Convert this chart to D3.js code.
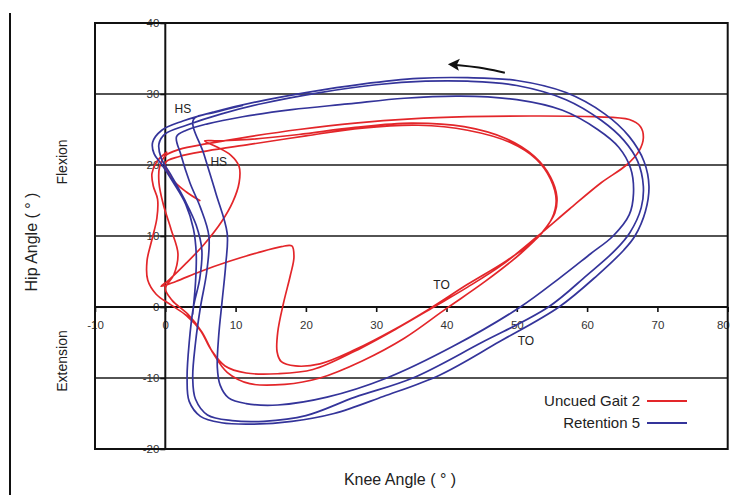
<!DOCTYPE html>
<html>
<head>
<meta charset="utf-8">
<script src="https://cdn.jsdelivr.net/npm/d3@7"></script>
<style>
  html, body { margin: 0; padding: 0; background: #fff; }
  svg { display: block; font-family: "Liberation Sans", Arial, sans-serif; }
</style>
</head>
<body>
<svg id="chart" width="730" height="495"></svg>
<script>
// Axis ticks (degrees)
const kneeTicks = [-10, 0, 10, 20, 30, 40, 50, 60, 70, 80];
const hipTicks = [-20, -10, 0, 10, 20, 30, 40];
const hipGrid = [-10, 10, 20, 30];

// Hip–knee angle cycles, [knee, hip] in degrees
const uncuedGait2 = [
  [0.2, 21.8], [-1.2, 20.5], [-1.9, 18.8], [-1.7, 17], [-1.1, 15.2], [-1.2, 12.5], [-1.9, 9.5],
  [-2.6, 6.5], [-2.5, 3.8], [-1.3, 1.8], [0.8, 0.3], [3, -1.2], [5, -3.3], [6.5, -6], [8.5, -8.3],
  [11.5, -9.3], [16, -9.4], [21, -8.8], [27, -6.2], [33, -3], [38.2, 0], [43, 2.8], [48, 6],
  [53, 10], [57.5, 13.8], [62, 17.5], [65.6, 20], [67.4, 22], [68, 23.8], [67.6, 25.4], [66, 26.4],
  [61, 26.8], [52, 26.9], [43, 26.8], [35, 26.5], [27, 25.9], [19, 25], [12, 24], [6, 23],
  [2, 22.2], [0, 21.3],
  [-0.8, 19.8], [-0.9, 17.5], [-0.3, 14.5], [0.8, 11], [1.8, 7.5], [1.2, 4.5], [0, 2.6], [1, 0.9],
  [3.2, -1], [5.2, -3.5], [6.8, -6.5], [8.8, -9.2], [12, -10.8], [17, -10.9], [22, -10], [28, -7.6],
  [34, -4.4], [40, -0.2], [45.5, 3.6], [50.5, 7.5], [53.6, 10.5], [55.4, 13.2], [55.7, 15.5],
  [54.8, 18.3], [52.5, 21.2], [48.5, 23.7], [42.5, 25.4], [35, 25.9], [27, 25.3], [19, 24.3],
  [12, 23.6], [7.5, 23.4], [5.6, 23.4],
  [7.2, 22.6], [9.3, 21.4], [10.5, 19.8], [10.5, 17.5], [9.6, 14.8], [8, 12], [5.5, 8.8], [2.8, 6],
  [0.5, 3.8], [-0.6, 2.9], [1.5, 3.6], [5, 5], [9, 6.4], [13, 7.6], [16.5, 8.5], [18, 8.6],
  [18.3, 7], [17.8, 4.5], [16.8, 0.5], [16, -3.5], [15.9, -6.3], [16.5, -7.7], [18.5, -8.3],
  [22, -8], [27, -6], [32.5, -3.2], [37.5, -0.3], [43, 3.2], [48.5, 6.5], [53, 9.8], [55, 12.5],
  [55.6, 15], [54.8, 18], [52.8, 20.8], [49, 23.2], [43, 24.9], [36, 25.6], [28, 25.2], [20, 24.1],
  [12, 22.9], [6, 22], [2, 21.2], [0, 20.3], [1, 18], [3, 16.2], [4.9, 15]
];

const retention5 = [
  [11, 28.4], [7, 27.4], [4, 26.4], [5.5, 21.5], [7.2, 16], [8.8, 10.4], [8.6, 6],
  [8.1, 1], [7.6, -4], [7.4, -8.5], [7.8, -11], [9, -12.8], [11.5, -13.6], [16, -13.8], [23, -12.7],
  [31.5, -10], [41, -5.5], [50.5, 0], [56, 4], [60.5, 7.5], [63.7, 10],
  [66, 13], [66.6, 16], [66.2, 19.5], [64.5, 22.5], [61.5, 25], [56.5, 27.7], [50, 29.2], [42, 29.7],
  [34, 29.4], [26, 28.6], [18, 27.8], [11, 26.8], [6, 25.8], [3, 24.9], [1.6, 24], [2.2, 21.5],
  [3.5, 17.5], [5, 14], [6.2, 10], [5.9, 5], [5, 0], [4.3, -5], [3.9, -10], [4.3, -13], [6, -15.2],
  [9.5, -16], [14, -16.1], [20, -15.3], [27, -12.7], [35.2, -10], [45, -5],
  [54.5, 0], [60, 4.5], [64, 8], [66.1, 10.5], [67.7, 14], [68, 17], [67.2, 20.5], [65.2, 23.5],
  [62, 26.3], [57, 29.2], [50, 31.2], [43, 31.8], [37, 31.8], [30, 31.3], [22, 30.2], [14, 28.7],
  [8, 27.2], [3, 25.6], [0, 24.4], [-0.9, 23], [-0.6, 21], [0.8, 18.6], [2.8, 15], [4.4, 11.5],
  [5.2, 8], [4.9, 4], [4, 0], [3.4, -5], [3.1, -10], [3.4, -13.3], [5, -15.4], [8, -16.3], [12, -16.5],
  [18, -16.1], [24, -15], [31, -12.6], [39, -9.6], [47.5, -4.9], [56, 0], [61.5, 4.5], [65.2, 8],
  [66.8, 10], [68.3, 13.5], [68.8, 17], [68.1, 20.5], [66, 24], [62.5, 27.2], [57, 30.2], [50, 31.9],
  [43, 32.3], [36, 32.2], [28, 31.4], [20, 30.2], [13, 28.9], [7, 27.5], [2.5, 26.2], [-0.5, 24.9],
  [-1.8, 23.2], [-1.6, 21.6], [-0.6, 20.2], [1.1, 17.6], [2.9, 14.5], [4, 11], [4.4, 7.5], [4.3, 3.5],
  [3.9, -1]
];

// Gait events, [label, knee, hip]
const eventLabels = [["HS", 2.5, 27.9], ["HS", 7.6, 20.5], ["TO", 39.3, 3.1], ["TO", 51.3, -4.8]];

const seriesNames = ["Uncued Gait 2", "Retention 5"];
const seriesColors = ["#e3262a", "#34349a"];

const svg = d3.select("#chart");
const x = d3.scaleLinear().domain([-10, 80]).range([95, 727.7]);
const y = d3.scaleLinear().domain([-20, 40]).range([449, 23]);

// Outer figure rule on the far left
svg.append("line").attr("x1", 10).attr("x2", 10).attr("y1", 13).attr("y2", 495)
  .attr("stroke", "#111").attr("stroke-width", 2);

// Horizontal grid lines
svg.append("g").selectAll("line").data(hipGrid).join("line")
  .attr("x1", x(-10)).attr("x2", x(80))
  .attr("y1", d => y(d)).attr("y2", d => y(d))
  .attr("stroke", "#1a1a1a").attr("stroke-width", 1.5);

// Axes through the origin
const xAxis = d3.axisBottom(x).tickValues(kneeTicks).tickSize(5).tickPadding(9).tickFormat(d3.format("d"));
const yAxis = d3.axisLeft(y).tickValues(hipTicks).tickSize(5).tickPadding(1).tickFormat(d3.format("d"));

const gx = svg.append("g").attr("transform", `translate(0,${y(0)})`).call(xAxis);
const gy = svg.append("g").attr("transform", `translate(${x(0)},0)`).call(yAxis);
[gx, gy].forEach(g => {
  g.select(".domain").remove();
  g.selectAll(".tick line").attr("stroke", "#111").attr("stroke-width", 1.6);
  g.selectAll(".tick text").attr("fill", "#333").style("font-size", "11.5px")
    .style("font-family", "'Liberation Sans', Arial, sans-serif");
});
gx.selectAll(".tick text").text(d => d < 0 ? "-" + Math.abs(d) : d);
gy.selectAll(".tick text").text(d => d < 0 ? "-" + Math.abs(d) : d);
// keep the last knee label inside the frame edge
gx.selectAll(".tick text").filter(d => d === 80).attr("text-anchor", "end").attr("x", 1.5);

// Zero lines
svg.append("line").attr("x1", x(-10)).attr("x2", x(80)).attr("y1", y(0)).attr("y2", y(0))
  .attr("stroke", "#111").attr("stroke-width", 2.2);
svg.append("line").attr("x1", x(0)).attr("x2", x(0)).attr("y1", y(40)).attr("y2", y(-20))
  .attr("stroke", "#111").attr("stroke-width", 2);

// Plot frame
svg.append("rect").attr("x", x(-10)).attr("y", y(40))
  .attr("width", x(80) - x(-10)).attr("height", y(-20) - y(40))
  .attr("fill", "none").attr("stroke", "#111").attr("stroke-width", 2);

// Angle–angle curves
const line = d3.line().x(d => x(d[0])).y(d => y(d[1])).curve(d3.curveCatmullRom.alpha(0.5));
[uncuedGait2, retention5].forEach((data, i) => {
  svg.append("path").datum(data).attr("d", line)
    .attr("fill", "none").attr("stroke", seriesColors[i])
    .attr("stroke-width", 1.7).attr("stroke-linejoin", "round").attr("stroke-linecap", "round");
});

// Gait event labels
svg.append("g").selectAll("text").data(eventLabels).join("text")
  .attr("x", d => x(d[1])).attr("y", d => y(d[2]))
  .attr("text-anchor", "middle").attr("dy", "0.35em")
  .attr("fill", "#222").style("font-size", "12px").text(d => d[0]);

// Direction arrow along the swing phase
const arrowPts = [[48.3, 33.0], [44.5, 33.8], [41.2, 34.1]];
svg.append("path").datum(arrowPts)
  .attr("d", d3.line().x(d => x(d[0])).y(d => y(d[1])).curve(d3.curveBasis))
  .attr("fill", "none").attr("stroke", "#111").attr("stroke-width", 2);
const tipX = x(40.2), tipY = y(34.2);
svg.append("path")
  .attr("d", `M${tipX},${tipY} L${tipX + 12},${tipY - 5.5} L${tipX + 9},${tipY + 0.6} L${tipX + 11},${tipY + 6.5} Z`)
  .attr("fill", "#111");

// Axis titles
svg.append("text").attr("transform", "translate(37,242) rotate(-90)")
  .attr("text-anchor", "middle").attr("fill", "#222").style("font-size", "16px").text("Hip Angle ( ° )");
svg.append("text").attr("transform", "translate(67,162) rotate(-90)")
  .attr("text-anchor", "middle").attr("fill", "#222").style("font-size", "14px").text("Flexion");
svg.append("text").attr("transform", "translate(67,361) rotate(-90)")
  .attr("text-anchor", "middle").attr("fill", "#222").style("font-size", "14px").text("Extension");
svg.append("text").attr("x", 400).attr("y", 485)
  .attr("text-anchor", "middle").attr("fill", "#222").style("font-size", "16px").text("Knee Angle ( ° )");

// Legend
const legend = svg.append("g").selectAll("g").data(seriesNames).join("g")
  .attr("transform", (d, i) => `translate(0,${401 + i * 22})`);
legend.append("text").attr("x", 640).attr("dy", "0.35em").attr("text-anchor", "end")
  .attr("fill", "#222").style("font-size", "15px").text(d => d);
legend.append("line").attr("x1", 647).attr("x2", 687)
  .attr("stroke", (d, i) => seriesColors[i]).attr("stroke-width", 2.2);
</script>
</body>
</html>
